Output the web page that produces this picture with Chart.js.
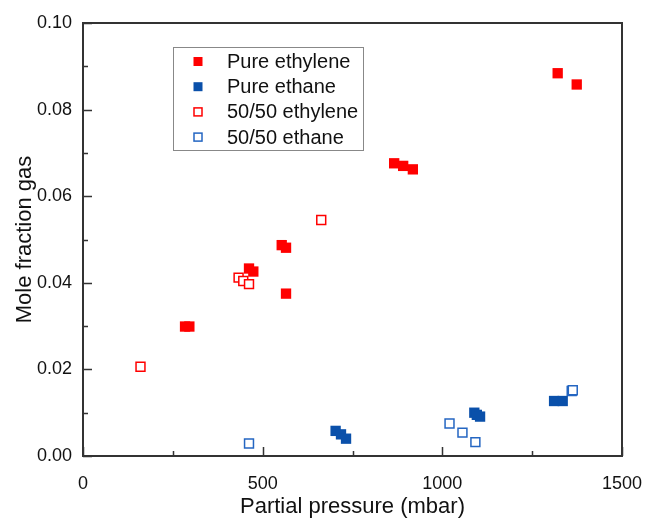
<!DOCTYPE html>
<html>
<head>
<meta charset="utf-8">
<script src="https://cdn.jsdelivr.net/npm/chart.js@4"></script>
<style>
  html, body { margin: 0; padding: 0; background: #fff; }
  #wrap { width: 646px; height: 518px; }
</style>
</head>
<body>
<div id="wrap"><canvas id="gasChart" width="646" height="518"></canvas></div>
<script>
// values: partial pressure (mbar), mole fraction gas
const pureEthyleneX = [1321, 1374, 866, 891, 918, 553, 565, 462, 474, 565, 284, 296];
const pureEthyleneY = [0.0884, 0.0858, 0.0676, 0.0670, 0.0662, 0.0487, 0.0481, 0.0433, 0.0426, 0.0375, 0.0299, 0.0299];

const pureEthaneX = [703, 718, 732, 1089, 1096, 1105, 1311, 1335];
const pureEthaneY = [0.0058, 0.0050, 0.0040, 0.0100, 0.0095, 0.0091, 0.0127, 0.0127];

const mixEthyleneX = [663, 433, 446, 462, 160];
const mixEthyleneY = [0.0545, 0.0412, 0.0404, 0.0397, 0.0206];

const mixEthaneX = [462, 1020, 1056, 1092, 1360, 1363];
const mixEthaneY = [0.0029, 0.0075, 0.0054, 0.0032, 0.0150, 0.0152];

const seriesNames = ['Pure ethylene', 'Pure ethane', '50/50 ethylene', '50/50 ethane'];
const xMinorTicks = [250, 750, 1250];
const yMinorTicks = [0.01, 0.03, 0.05, 0.07, 0.09];

function toPoints(xs, ys) {
  return xs.map(function (x, i) { return { x: x, y: ys[i] }; });
}

const RED = '#ff0000';
const BLUE = '#0a50aa';
const BLUE_OPEN = '#2466c2';

document.addEventListener("DOMContentLoaded", function () {
  const ctx = document.getElementById('gasChart');

  // box round the plot and inward tick marks
  const framePlugin = {
    id: 'frame',
    afterDraw(chart) {
      const c = chart.ctx;
      const a = chart.chartArea;
      const xs = chart.scales.x;
      const ys = chart.scales.y;
      c.save();
      c.strokeStyle = '#333';
      c.lineWidth = 2;
      c.strokeRect(a.left, a.top, a.right - a.left, a.bottom - a.top);
      c.lineWidth = 1.5;
      c.beginPath();
      xs.ticks.forEach(function (t) {
        const px = Math.round(xs.getPixelForValue(t.value)) + 0.5;
        c.moveTo(px, a.bottom); c.lineTo(px, a.bottom - 9);
      });
      xMinorTicks.forEach(function (v) {
        const px = Math.round(xs.getPixelForValue(v)) + 0.5;
        c.moveTo(px, a.bottom); c.lineTo(px, a.bottom - 5);
      });
      ys.ticks.forEach(function (t) {
        const py = Math.round(ys.getPixelForValue(t.value)) + 0.5;
        c.moveTo(a.left, py); c.lineTo(a.left + 9, py);
      });
      yMinorTicks.forEach(function (v) {
        const py = Math.round(ys.getPixelForValue(v)) + 0.5;
        c.moveTo(a.left, py); c.lineTo(a.left + 5, py);
      });
      c.stroke();
      c.restore();
    }
  };

  // legend box inside the plot, top left
  const boxLegend = {
    id: 'boxLegend',
    afterDraw(chart) {
      const c = chart.ctx;
      c.save();
      c.strokeStyle = '#888';
      c.lineWidth = 1;
      c.strokeRect(173.5, 47.5, 190, 103);
      c.font = '20px "Liberation Sans", Arial, sans-serif';
      c.textBaseline = 'middle';
      c.fillStyle = '#111';
      chart.data.datasets.forEach(function (ds, i) {
        const cy = 61.5 + i * 25.2;
        const s = 8;
        if (ds.backgroundColor === '#ffffff') {
          c.fillStyle = '#fff';
          c.fillRect(198 - s / 2, cy - s / 2, s, s);
          c.strokeStyle = ds.borderColor;
          c.lineWidth = 1.5;
          c.strokeRect(198 - s / 2, cy - s / 2, s, s);
        } else {
          c.fillStyle = ds.backgroundColor;
          c.fillRect(198 - 4.5, cy - 4.5, 9, 9);
        }
        c.fillStyle = '#111';
        c.fillText(ds.label, 227, cy + 1);
      });
      c.restore();
    }
  };

  const data = {
    datasets: [
      {
        label: seriesNames[0],
        data: toPoints(pureEthyleneX, pureEthyleneY),
        pointStyle: 'rect',
        pointRadius: 7.3,
        backgroundColor: RED,
        borderColor: RED,
        borderWidth: 0
      },
      {
        label: seriesNames[1],
        data: toPoints(pureEthaneX, pureEthaneY),
        pointStyle: 'rect',
        pointRadius: 7.3,
        backgroundColor: BLUE,
        borderColor: BLUE,
        borderWidth: 0
      },
      {
        label: seriesNames[2],
        data: toPoints(mixEthyleneX, mixEthyleneY),
        pointStyle: 'rect',
        pointRadius: 6.3,
        backgroundColor: '#ffffff',
        borderColor: RED,
        borderWidth: 1.5
      },
      {
        label: seriesNames[3],
        data: toPoints(mixEthaneX, mixEthaneY),
        pointStyle: 'rect',
        pointRadius: 6.3,
        backgroundColor: '#ffffff',
        borderColor: BLUE_OPEN,
        borderWidth: 1.5
      }
    ]
  };

  const tickFont = { family: '"Liberation Sans", Arial, sans-serif', size: 18 };
  const titleFont = { family: '"Liberation Sans", Arial, sans-serif', size: 22, lineHeight: 1 };

  const options = {
    responsive: false,
    animation: false,
    layout: { padding: { top: 23, right: 24, left: 0, bottom: 0 } },
    scales: {
      x: {
        type: 'linear',
        min: 0,
        max: 1500,
        ticks: {
          stepSize: 500,
          font: tickFont,
          color: '#111',
          padding: 17,
          maxRotation: 0,
          callback: function (v) { return String(v); }
        },
        grid: { display: false, drawTicks: false },
        border: { display: false },
        title: { display: true, text: 'Partial pressure (mbar)', font: titleFont, color: '#111', padding: 0 },
        afterFit: function (scale) {
          scale.height = 62;
          scale.paddingLeft = 0;
          scale.paddingRight = 0;
        }
      },
      y: {
        type: 'linear',
        min: 0,
        max: 0.1,
        ticks: {
          stepSize: 0.02,
          font: tickFont,
          color: '#111',
          padding: 11,
          callback: function (v) { return v.toFixed(2); }
        },
        grid: { display: false, drawTicks: false },
        border: { display: false },
        title: { display: true, text: 'Mole fraction gas', font: titleFont, color: '#111', padding: { top: 14, bottom: 0 } },
        afterFit: function (scale) {
          scale.width = 83;
          scale.paddingTop = 0;
          scale.paddingBottom = 0;
        }
      }
    },
    plugins: {
      legend: { display: false },
      tooltip: { enabled: false }
    }
  };

  const gasChart = new Chart(ctx, {
    type: 'scatter',
    data: data,
    options: options,
    plugins: [framePlugin, boxLegend]
  });
});
</script>
</body>
</html>
